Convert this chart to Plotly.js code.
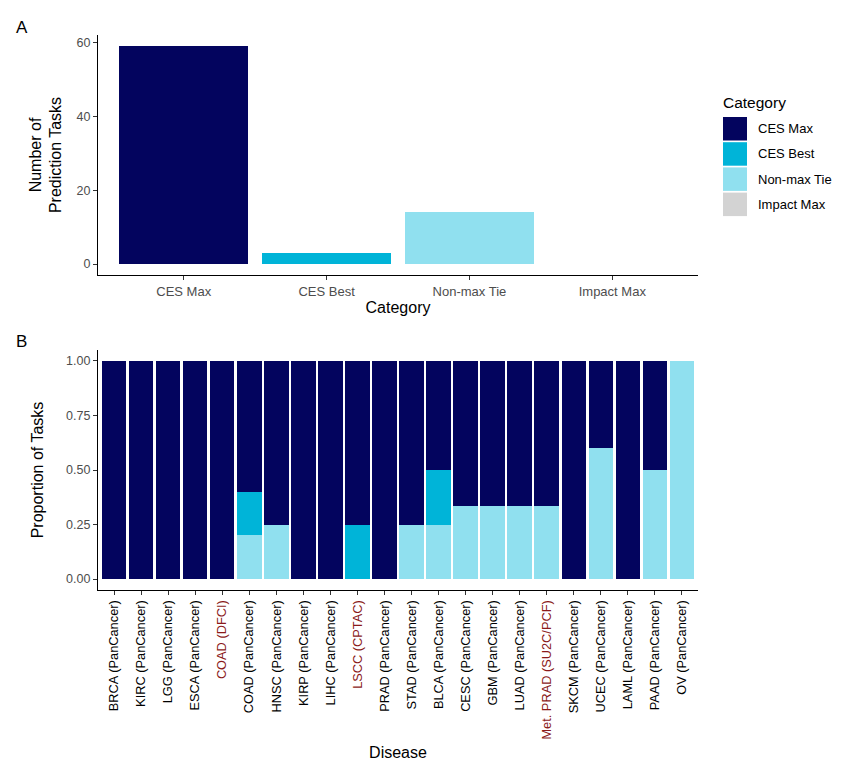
<!DOCTYPE html>
<html>
<head>
<meta charset="utf-8">
<script src="https://cdn.plot.ly/plotly-3.0.1.min.js"></script>
<style>html,body{margin:0;padding:0;background:#fff;}#chart{width:854px;height:776px;}</style>
</head>
<body>
<div id="chart"></div>
<script>
// ---- Data ----
const categories = ["CES Max", "CES Best", "Non-max Tie", "Impact Max"];
const categoryColors = ["#03045E", "#00B4D8", "#90E0EF", "#D3D3D3"];
const taskCounts = [59, 3, 14, 0];

const diseases = ["BRCA (PanCancer)", "KIRC (PanCancer)", "LGG (PanCancer)", "ESCA (PanCancer)",
  "COAD (DFCI)", "COAD (PanCancer)", "HNSC (PanCancer)", "KIRP (PanCancer)", "LIHC (PanCancer)",
  "LSCC (CPTAC)", "PRAD (PanCancer)", "STAD (PanCancer)", "BLCA (PanCancer)", "CESC (PanCancer)",
  "GBM (PanCancer)", "LUAD (PanCancer)", "Met. PRAD (SU2C/PCF)", "SKCM (PanCancer)",
  "UCEC (PanCancer)", "LAML (PanCancer)", "PAAD (PanCancer)", "OV (PanCancer)"];
const highlightedDiseases = ["COAD (DFCI)", "LSCC (CPTAC)", "Met. PRAD (SU2C/PCF)"];

const propCESMax =    [1, 1, 1, 1, 1, 0.6, 0.75, 1, 1, 0.75, 1, 0.75, 0.5, 0.6667, 0.6667, 0.6667, 0.6667, 1, 0.4, 1, 0.5, 0];
const propCESBest =   [0, 0, 0, 0, 0, 0.2, 0,    0, 0, 0.25, 0, 0,    0.25, 0,    0,      0,      0,      0, 0,   0, 0,   0];
const propNonMaxTie = [0, 0, 0, 0, 0, 0.2, 0.25, 0, 0, 0,    0, 0.25, 0.25, 0.3333, 0.3333, 0.3333, 0.3333, 0, 0.6, 0, 0.5, 1];
const propImpactMax = [0, 0, 0, 0, 0, 0,   0,    0, 0, 0,    0, 0,    0,    0,      0,      0,      0,      0, 0,   0, 0,   0];

// ---- Helpers ----
const W = 854, H = 776;
const px = x => x / W;
const py = y => 1 - y / H;
const FONT = "Liberation Sans, Arial, sans-serif";

const traces = [];
// Panel A
traces.push({
  type: "bar", x: categories, y: taskCounts, xaxis: "x", yaxis: "y",
  marker: {color: categoryColors}, showlegend: false, hoverinfo: "x+y"
});
// Panel B: stacking order bottom->top: Impact Max, Non-max Tie, CES Best, CES Max
const stackSeries = [
  {name: "Impact Max", vals: propImpactMax, color: categoryColors[3]},
  {name: "Non-max Tie", vals: propNonMaxTie, color: categoryColors[2]},
  {name: "CES Best", vals: propCESBest, color: categoryColors[1]},
  {name: "CES Max", vals: propCESMax, color: categoryColors[0]}
];
stackSeries.forEach(s => traces.push({
  type: "bar", name: s.name, x: diseases, y: s.vals, xaxis: "x2", yaxis: "y2",
  marker: {color: s.color}, showlegend: false
}));

const tickText = diseases.map(d => highlightedDiseases.includes(d)
  ? '<span style="color:#8B1A1A">' + d + '</span>' : d);

// Legend (custom keys)
const shapes = [];
const annotations = [];
const keyTop = 117, keyStep = 25.2, keyH = 23.5;
categories.forEach((c, i) => {
  const y0 = keyTop + i * keyStep;
  shapes.push({type: "rect", xref: "paper", yref: "paper",
    x0: px(723), x1: px(747), y0: py(y0), y1: py(y0 + keyH),
    fillcolor: categoryColors[i], line: {width: 0}});
  annotations.push({xref: "paper", yref: "paper", x: px(756), y: py(y0 + keyH / 2),
    xanchor: "left", yanchor: "middle", showarrow: false, text: c,
    font: {family: FONT, size: 13, color: "#000"}});
});
annotations.push({xref: "paper", yref: "paper", x: px(721), y: py(103),
  xanchor: "left", yanchor: "middle", showarrow: false, text: "Category",
  font: {family: FONT, size: 15.5, color: "#000"}});
annotations.push({xref: "paper", yref: "paper", x: px(14), y: py(28),
  xanchor: "left", yanchor: "middle", showarrow: false, text: "A",
  font: {family: FONT, size: 17, color: "#000"}});
annotations.push({xref: "paper", yref: "paper", x: px(14), y: py(341),
  xanchor: "left", yanchor: "middle", showarrow: false, text: "B",
  font: {family: FONT, size: 17, color: "#000"}});

const axisCommon = {
  showline: true, linecolor: "#000", linewidth: 1.1, showgrid: false, zeroline: false,
  ticks: "outside", ticklen: 4, tickcolor: "#333", tickwidth: 1,
  tickfont: {family: FONT, size: 12.5, color: "#4D4D4D"}
};

const layout = {
  width: W, height: H, paper_bgcolor: "#fff", plot_bgcolor: "#fff",
  margin: {l: 0, r: 0, t: 0, b: 0},
  barmode: "stack", bargap: 0.1,
  font: {family: FONT},
  xaxis: Object.assign({}, axisCommon, {
    domain: [px(98), px(698)], anchor: "y", type: "category", range: [-0.6, 3.6],
    tickfont: {family: FONT, size: 13, color: "#4D4D4D"},
    title: {text: "Category", font: {family: FONT, size: 16, color: "#000"}, standoff: 4}
  }),
  yaxis: Object.assign({}, axisCommon, {
    domain: [py(275), py(35)], anchor: "x", range: [-2.95, 61.95],
    tickvals: [0, 20, 40, 60],
    title: {text: "Number of<br>Prediction Tasks", font: {family: FONT, size: 16, color: "#000"}, standoff: 10}
  }),
  xaxis2: Object.assign({}, axisCommon, {
    domain: [px(98), px(698)], anchor: "y2", type: "category", range: [-0.6, 21.6],
    tickvals: diseases, ticktext: tickText, tickangle: -90,
    tickfont: {family: FONT, size: 12.8, color: "#000"},
    title: {text: "Disease", font: {family: FONT, size: 16, color: "#000"}, standoff: 8}
  }),
  yaxis2: Object.assign({}, axisCommon, {
    domain: [py(590), py(350)], anchor: "x2", range: [-0.05, 1.05],
    tickvals: [0, 0.25, 0.5, 0.75, 1], tickformat: ".2f",
    title: {text: "Proportion of Tasks", font: {family: FONT, size: 16, color: "#000"}, standoff: 18}
  }),
  shapes: shapes, annotations: annotations
};

Plotly.newPlot("chart", traces, layout, {displayModeBar: false, staticPlot: true});
</script>
</body>
</html>
